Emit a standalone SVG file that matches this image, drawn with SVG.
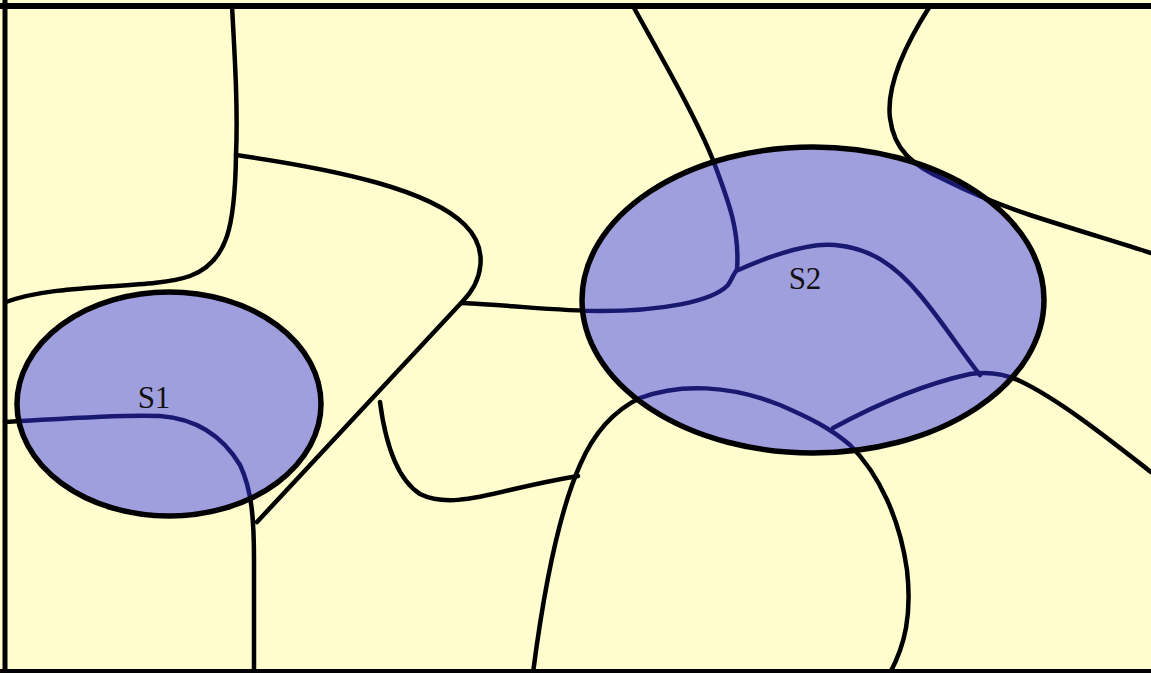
<svg xmlns="http://www.w3.org/2000/svg" width="1151" height="673" viewBox="0 0 1151 673">
<style>
.edge{fill:none;stroke:#000;stroke-width:4.5;stroke-linecap:round;stroke-linejoin:round}
.region{fill:#3535F0;fill-opacity:0.47;stroke:#000;stroke-width:5.5}
.label{font-family:"Liberation Serif","Times New Roman",serif;font-size:31px;fill:#111;text-anchor:middle}
.frame{stroke:#000;fill:none}
</style>
<rect x="0" y="0" width="1151" height="673" fill="#FFFDCE"/>
<g id="connectors">
<path class="edge" d="M232,6 C235,60 238,110 236,155 C235,225 228,262 190,276 C150,290 60,282 6,302"/>
<path class="edge" d="M236,155 C340,170 430,190 465,225 C490,250 482,282 462,302 L257,522"/>
<path class="edge" d="M462,303 C520,306 560,311 600,311 C660,311 712,302 728,285 C732,279 733,275 736,271 C765,258 805,242 835,245 C870,248 895,265 920,295 C945,325 960,350 980,375"/>
<path class="edge" d="M633,6 C660,55 695,115 713,160 C728,200 740,230 737,270"/>
<path class="edge" d="M930,6 C905,45 886,85 890,118 C894,150 912,165 945,180 C975,195 1000,205 1030,215 C1070,228 1110,240 1151,253"/>
<path class="edge" d="M6,422 C60,419 120,414 160,416 C200,419 225,440 240,465 C252,490 254,520 254,560 L254,673"/>
<path class="edge" d="M380,402 C385,440 395,478 420,494 C442,505 470,500 510,490 C540,483 560,479 578,476"/>
<path class="edge" d="M533,673 C545,580 560,510 580,465 C595,430 615,410 640,398 C680,383 730,385 780,405 C810,418 830,428 850,445 C880,475 900,520 907,570 C912,615 905,645 890,673"/>
<path class="edge" d="M833,428 C870,408 920,385 970,374 C990,371 1005,374 1020,381 C1060,400 1110,440 1151,472"/>
</g>
<g id="S1">
<ellipse class="region" cx="169" cy="404" rx="152" ry="112"/>
<text class="label" x="154" y="408">S1</text>
</g>
<g id="S2">
<ellipse class="region" cx="813" cy="300" rx="231" ry="153"/>
<text class="label" x="805" y="289">S2</text>
</g>
<g id="frame">
<line class="frame" x1="0" y1="6" x2="1151" y2="6" stroke-width="6"/>
<line class="frame" x1="5" y1="0" x2="5" y2="673" stroke-width="5"/>
<line class="frame" x1="0" y1="671" x2="1151" y2="671" stroke-width="4"/>
</g>
</svg>
